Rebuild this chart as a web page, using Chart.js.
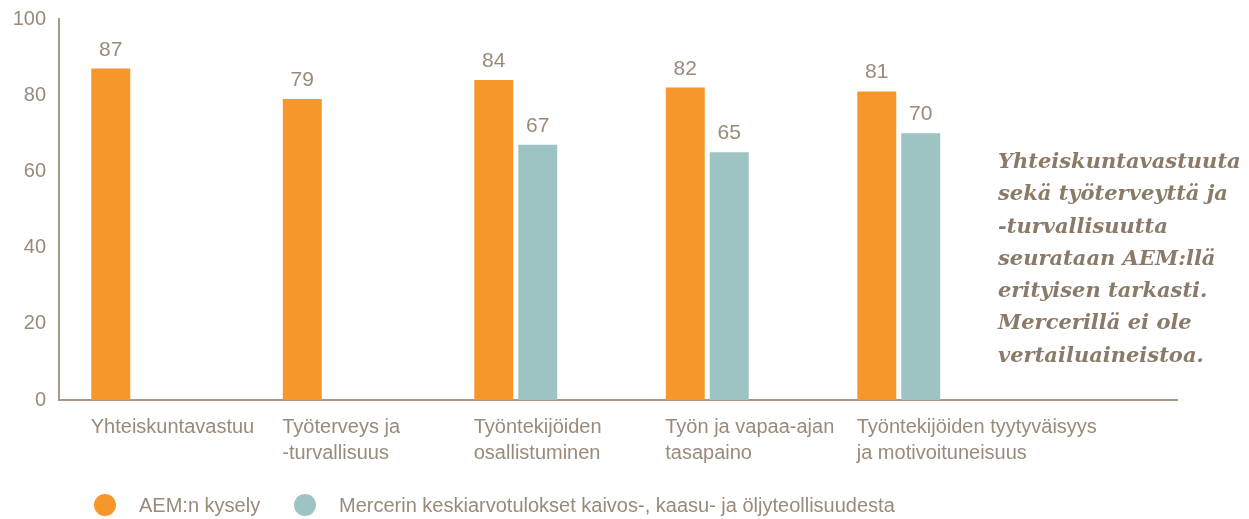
<!DOCTYPE html>
<html>
<head>
<meta charset="utf-8">
<script src="https://cdn.jsdelivr.net/npm/chart.js@4.4.1/dist/chart.umd.min.js"></script>
<style>
  html, body { margin: 0; padding: 0; background: #fff; }
  #wrap { position: relative; width: 1249px; height: 519px; }
  #note {
    position: absolute; left: 998px; top: 145px;
    font-family: "DejaVu Serif", serif; font-weight: bold; font-style: italic;
    font-size: 21px; line-height: 32.3px; color: #8b7a68; white-space: nowrap;
  }
</style>
</head>
<body>
<div id="wrap">
  <canvas id="chartCanvas" width="1249" height="519"></canvas>
  <div id="note">Yhteiskuntavastuuta<br>sekä työterveyttä ja<br>-turvallisuutta<br>seurataan AEM:llä<br>erityisen tarkasti.<br>Mercerillä ei ole<br>vertailuaineistoa.</div>
</div>
<script>
const categories = [
  "Yhteiskuntavastuu",
  ["Työterveys ja", "-turvallisuus"],
  ["Työntekijöiden", "osallistuminen"],
  ["Työn ja vapaa-ajan", "tasapaino"],
  ["Työntekijöiden tyytyväisyys", "ja motivoituneisuus"]
];
const aemValues = [87, 79, 84, 82, 81];
const mercerValues = [null, null, 67, 65, 70];
const yTicks = [0, 20, 40, 60, 80, 100];
const seriesNames = ["AEM:n kysely", "Mercerin keskiarvotulokset kaivos-, kaasu- ja öljyteollisuudesta"];

const ORANGE = "#f7962a";
const TEAL = "#9dc3c2";
const TEXT = "#9a8a7a";
const AXIS = "#a69985";
const FONT = "'Liberation Sans', Arial, sans-serif";

// numbers above the bars
const valueLabels = {
  id: "valueLabels",
  afterDatasetsDraw(chart) {
    const ctx = chart.ctx;
    ctx.save();
    ctx.fillStyle = TEXT;
    ctx.font = "21px " + FONT;
    ctx.textAlign = "center";
    ctx.textBaseline = "alphabetic";
    [0, 1].forEach(di => {
      const meta = chart.getDatasetMeta(di);
      meta.data.forEach((bar, i) => {
        const v = chart.data.datasets[di].data[i];
        if (v === null || v === undefined) return;
        ctx.fillText(String(v), bar.x, bar.y - 13);
      });
    });
    ctx.restore();
  }
};

// baseline runs past the last category, plus a legend with round markers
const extras = {
  id: "extras",
  afterDraw(chart) {
    const ctx = chart.ctx;
    const area = chart.chartArea;
    const y0 = Math.round(area.bottom);
    ctx.save();
    ctx.strokeStyle = AXIS;
    ctx.lineWidth = 2;
    ctx.beginPath();
    ctx.moveTo(area.right - 1, y0);
    ctx.lineTo(1178, y0);
    ctx.stroke();

    const items = [
      { x: 105, color: ORANGE, text: seriesNames[0] },
      { x: 305, color: TEAL, text: seriesNames[1] }
    ];
    ctx.font = "20px " + FONT;
    ctx.textBaseline = "middle";
    ctx.textAlign = "left";
    items.forEach(it => {
      ctx.fillStyle = it.color;
      ctx.beginPath();
      ctx.arc(it.x, 505, 11, 0, Math.PI * 2);
      ctx.fill();
      ctx.fillStyle = TEXT;
      ctx.fillText(it.text, it.x + 34, 506);
    });
    ctx.restore();
  }
};

new Chart(document.getElementById("chartCanvas"), {
  type: "bar",
  data: {
    labels: categories,
    datasets: [
      { label: seriesNames[0], data: aemValues, backgroundColor: ORANGE },
      { label: seriesNames[1], data: mercerValues, backgroundColor: TEAL },
      { label: "", data: [], backgroundColor: "rgba(0,0,0,0)" }
    ]
  },
  options: {
    responsive: false,
    animation: false,
    categoryPercentage: 0.689,
    barPercentage: 0.886,
    layout: { padding: { left: 0, right: 232.5, top: 19, bottom: 0 } },
    plugins: { legend: { display: false }, tooltip: { enabled: false } },
    scales: {
      x: {
        grid: { display: false, drawTicks: false },
        border: { display: true, color: AXIS, width: 2 },
        ticks: {
          color: TEXT, font: { family: FONT, size: 20, lineHeight: 1.3 },
          align: "start", labelOffset: -64, padding: 14, maxRotation: 0, autoSkip: false
        },
        afterFit(scale) {
          scale.height = 119;
          scale.paddingLeft = 0;
          scale.paddingRight = 0;
        }
      },
      y: {
        min: 0, max: 100,
        afterBuildTicks(scale) { scale.ticks = yTicks.map(v => ({ value: v })); },
        grid: { display: false, drawTicks: false },
        border: { display: true, color: AXIS, width: 2 },
        ticks: { color: TEXT, font: { family: FONT, size: 20 }, padding: 13 },
        afterFit(scale) {
          scale.width = 59;
          scale.paddingTop = 0;
          scale.paddingBottom = 0;
        }
      }
    }
  },
  plugins: [valueLabels, extras]
});
</script>
</body>
</html>
